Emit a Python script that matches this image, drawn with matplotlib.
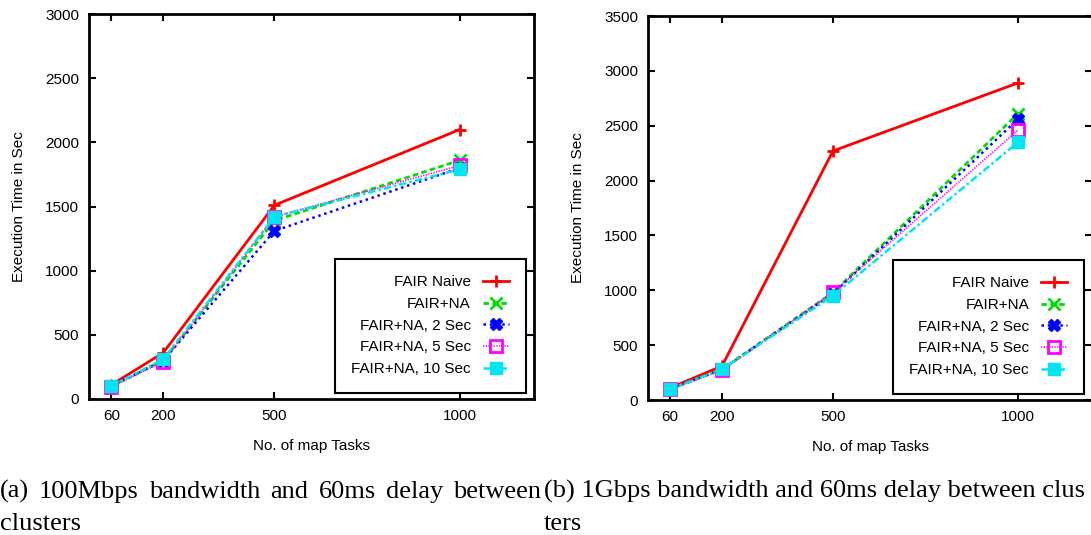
import matplotlib.pyplot as plt

# x positions: number of map tasks
tasks = [60, 200, 500, 1000]

series_names = ["FAIR Naive", "FAIR+NA", "FAIR+NA, 2 Sec", "FAIR+NA, 5 Sec", "FAIR+NA, 10 Sec"]

# (a) 100Mbps bandwidth
a_naive = [110, 360, 1510, 2100]
a_na = [100, 300, 1390, 1860]
a_na2 = [100, 300, 1310, 1800]
a_na5 = [95, 290, 1420, 1820]
a_na10 = [100, 310, 1420, 1790]

# (b) 1Gbps bandwidth
b_naive = [110, 310, 2270, 2890]
b_na = [100, 280, 980, 2610]
b_na2 = [100, 280, 970, 2560]
b_na5 = [100, 270, 980, 2460]
b_na10 = [100, 280, 950, 2350]

caption_a = ["(a)", "100Mbps", "bandwidth", "and", "60ms", "delay", "between"]

# gnuplot-like line styles
styles = [
    dict(color="#ff0000", ls="-", marker="+", mfc="none", ms=9, mew=2.0, lw=2.0),
    dict(color="#00dd00", ls=(0, (2.0, 1.2)), marker="x", mfc="none", ms=8, mew=2.0, lw=2.0),
    dict(color="#0000ff", ls=(0, (1.0, 1.5)), marker="X", mfc="#0000ff", ms=9, mew=1.0, lw=1.8),
    dict(color="#ff00ff", ls=(0, (0.8, 0.8)), marker="s", mfc="none", ms=9, mew=2.0, lw=1.2),
    dict(color="#00e5ee", ls=(0, (3.0, 1.2, 1.0, 1.2)), marker="s", mfc="#00e5ee", ms=9, mew=1.0, lw=1.8),
]

W, H = 1091, 535
fig = plt.figure(figsize=(W / 100, H / 100), dpi=100)
plt.rcParams['font.family'] = ['Liberation Sans', 'DejaVu Sans']


def make_axes(left, top, right, bottom):
    return fig.add_axes([left / W, (H - bottom) / H, (right - left) / W, (bottom - top) / H])


def draw(ax, data, ymax, ystep):
    for vals, name, st in zip(data, series_names, styles):
        ax.plot(tasks, vals, label=name, **st)
    ax.set_xlim(0, 1200)
    ax.set_ylim(0, ymax)
    ax.set_xticks(tasks)
    ax.set_yticks(range(0, ymax + 1, ystep))
    ax.tick_params(direction="in", length=5, width=1.5, top=True, right=True,
                   labelsize=11, pad=7)
    for sp in ax.spines.values():
        sp.set_linewidth(2)
    ax.set_xlabel("No. of map Tasks", fontsize=11, labelpad=12)
    ax.set_ylabel("Execution Time in Sec", fontsize=11, labelpad=14)
    leg = ax.legend(loc="lower right", bbox_to_anchor=(0.982, 0.016), borderaxespad=0,
                    markerfirst=False, fancybox=False, edgecolor="black",
                    fontsize=11, handlelength=1.7, labelspacing=0.5, borderpad=1.1,
                    handletextpad=0.8, framealpha=1)
    leg.get_frame().set_linewidth(1.5)
    leg._legend_box.align = "right"


ax1 = make_axes(89, 14, 534, 399)
draw(ax1, [a_naive, a_na, a_na2, a_na5, a_na10], 3000, 500)

ax2 = make_axes(648, 16, 1092, 400)
draw(ax2, [b_naive, b_na, b_na2, b_na5, b_na10], 3500, 500)

# captions
cap = dict(family=["Liberation Serif", "DejaVu Serif"], fontsize=19, va="baseline")

# left caption is justified between x=0 and x=541
renderer = fig.canvas.get_renderer()
words = [fig.text(0, 1 - 498 / H, w, **cap) for w in caption_a]
widths = [t.get_window_extent(renderer).width for t in words]
gap = (541 - sum(widths)) / (len(words) - 1)
x = 0
for t, w in zip(words, widths):
    t.set_x(x / W)
    x += w + gap
fig.text(0 / W, 1 - 530 / H, "clusters", **cap)
fig.text(544 / W, 1 - 498 / H, "(b) 1Gbps bandwidth and 60ms delay between clus", **cap)
fig.text(544 / W, 1 - 530 / H, "ters", **cap)

fig.savefig("out.png", dpi=100)
